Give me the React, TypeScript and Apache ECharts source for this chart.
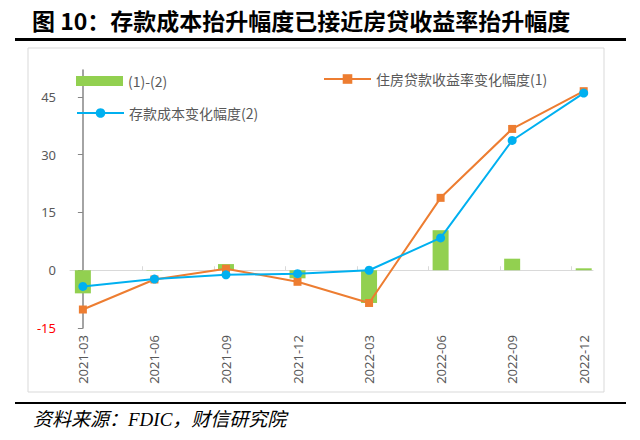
import React, { useEffect, useRef } from "react";
import * as echarts from "echarts";

const categories = ["2021-03", "2021-06", "2021-09", "2021-12", "2022-03", "2022-06", "2022-09", "2022-12"];
const loanYieldChange = [-10.2, -2.4, 0.4, -3.0, -8.5, 18.8, 36.7, 46.5];
const depositCostChange = [-4.2, -2.3, -1.2, -0.9, 0.0, 8.4, 33.7, 46.0];
const spread = [-6.0, -0.1, 1.6, -2.1, -8.5, 10.4, 3.0, 0.5];
const yTicks = [-15, 0, 15, 30, 45];

const titleText = "图 10：存款成本抬升幅度已接近房贷收益率抬升幅度";
const sourceText = "资料来源：FDIC，财信研究院";
const nameSpread = "(1)-(2)";
const nameLoan = "住房贷款收益率变化幅度(1)";
const nameDeposit = "存款成本变化幅度(2)";

const CJK = "'Noto Sans CJK SC', 'Noto Sans', sans-serif";

export default function App() {
  const ref = useRef<HTMLDivElement>(null);
  useEffect(() => {
    if (!ref.current) return;
    const chart = echarts.init(ref.current, null, { renderer: "svg" });
    const idx = categories.map((_, i) => i);
    const legendText = { color: "#595959", fontSize: 14, fontFamily: CJK };
    chart.setOption({
      animation: false,
      backgroundColor: "#fff",
      graphic: [
        { type: "rect", shape: { x: 28, y: 48, width: 576, height: 344 }, style: { fill: "none", stroke: "#D9D9D9", lineWidth: 1 }, silent: true },
        { type: "text", x: 32, y: 20, style: { text: titleText, font: `bold 23px ${CJK}`, fill: "#000", verticalAlign: "middle" } },
        { type: "rect", shape: { x: 15, y: 38, width: 611, height: 3 }, style: { fill: "#000" } },
        { type: "rect", shape: { x: 15, y: 402, width: 611, height: 2 }, style: { fill: "#000" } },
        { type: "text", x: 33, y: 419, style: { text: sourceText, font: `italic 19px 'Liberation Serif', ${CJK}`, fill: "#000", verticalAlign: "middle" } },
      ],
      legend: [
        { data: [nameSpread], left: 76, top: 74, padding: 0, itemWidth: 47, itemHeight: 10, itemGap: 5, textStyle: legendText, icon: "rect" },
        { data: [nameDeposit], left: 76, top: 106, padding: 0, itemWidth: 47, itemHeight: 12, itemGap: 5, textStyle: legendText, lineStyle: { width: 2 } },
        { data: [nameLoan], left: 323, top: 72, padding: 0, itemWidth: 47, itemHeight: 12, itemGap: 5, textStyle: legendText, lineStyle: { width: 2 } },
      ],
      grid: { left: 70, right: 47, top: 70, bottom: 112 },
      xAxis: [
        {
          type: "value",
          min: -0.18,
          max: 7.13,
          splitLine: { show: false },
          axisLine: { show: false, onZero: false },
          axisTick: { show: false },
          axisLabel: {
            customValues: idx,
            rotate: 90,
            margin: 7,
            color: "#595959",
            fontSize: 13,
            fontFamily: "'Noto Sans', sans-serif",
            formatter: (v: number) => categories[Math.round(v)] ?? "",
          },
        },
        {
          type: "value",
          min: -0.18,
          max: 7.13,
          splitLine: { show: false },
          axisLine: { show: true, onZero: true, lineStyle: { color: "#D9D9D9", width: 1 } },
          axisTick: { show: true, customValues: idx.slice(1).map((i) => i - 0.17), length: 4, lineStyle: { color: "#D9D9D9" } },
          axisLabel: { show: false },
        },
      ],
      yAxis: {
        type: "value",
        min: -15,
        max: 52,
        splitLine: { show: false },
        axisLine: { show: true, lineStyle: { color: "#868686", width: 1.5 } },
        axisTick: { show: true, customValues: yTicks, length: 5, lineStyle: { color: "#868686" } },
        axisLabel: {
          customValues: yTicks,
          margin: 14,
          fontSize: 13,
          fontFamily: "'Noto Sans', sans-serif",
          color: (v: any) => (Number(v) < 0 ? "#FF0000" : "#595959"),
        },
      },
      series: [
        {
          name: nameSpread,
          type: "bar",
          xAxisIndex: 0,
          barWidth: 16,
          itemStyle: { color: "#92D050" },
          data: spread.map((v, i) => [i, v]),
        },
        {
          name: nameLoan,
          type: "line",
          xAxisIndex: 0,
          symbol: "rect",
          symbolSize: 8,
          lineStyle: { color: "#ED7D31", width: 2 },
          itemStyle: { color: "#ED7D31" },
          data: loanYieldChange.map((v, i) => [i, v]),
        },
        {
          name: nameDeposit,
          type: "line",
          xAxisIndex: 0,
          symbol: "circle",
          symbolSize: 9,
          lineStyle: { color: "#00B0F0", width: 2 },
          itemStyle: { color: "#00B0F0" },
          data: depositCostChange.map((v, i) => [i, v]),
        },
      ],
    });
    return () => chart.dispose();
  }, []);
  return <div ref={ref} style={{ position: "fixed", left: 0, top: 0, width: 640, height: 440 }} />;
}
